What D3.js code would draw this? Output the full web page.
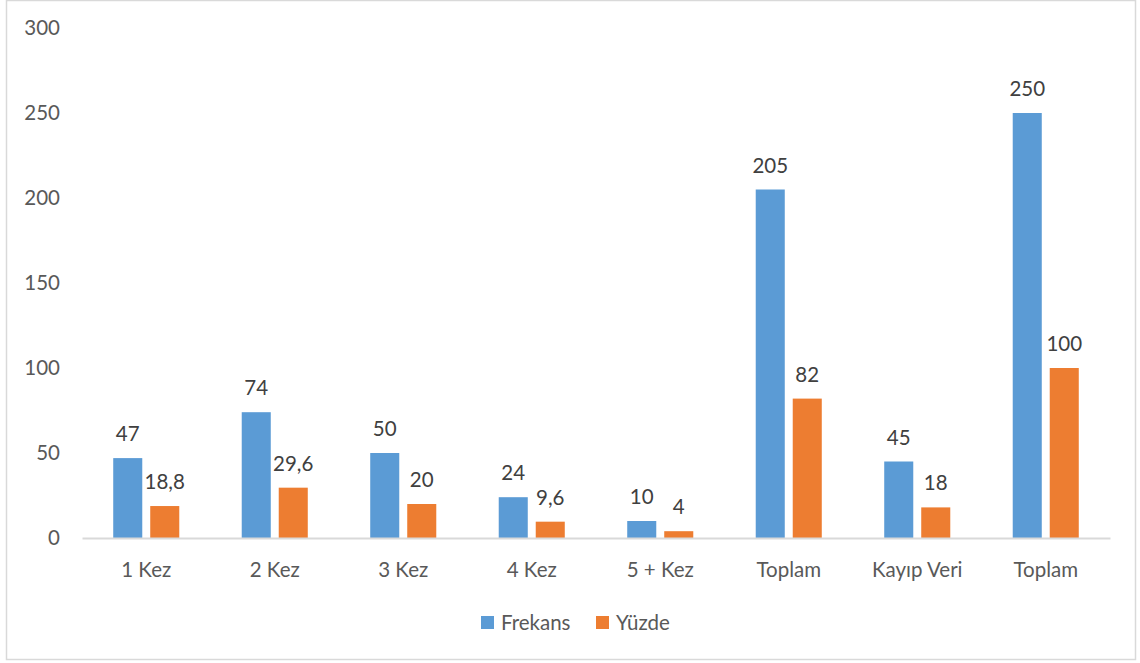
<!DOCTYPE html>
<html>
<head>
<meta charset="utf-8">
<script src="https://cdn.jsdelivr.net/npm/d3@7"></script>
<style>
  html, body { margin: 0; padding: 0; background: #fff; }
  svg { display: block; }
  text { font-family: Lato, "Open Sans", sans-serif; }
</style>
</head>
<body>
<svg id="chart" width="1140" height="663"></svg>
<script>
// Kategoriler ve seriler
const categories = ["1 Kez", "2 Kez", "3 Kez", "4 Kez", "5 + Kez", "Toplam", "Kayıp Veri", "Toplam"];
const frekans = [47, 74, 50, 24, 10, 205, 45, 250];
const yuzde = [18.8, 29.6, 20, 9.6, 4, 82, 18, 100];
const seriesNames = ["Frekans", "Yüzde"];
const yTicks = [0, 50, 100, 150, 200, 250, 300];

const colors = ["#5B9BD5", "#ED7D31"];
const fontSize = "20.5px";
const svg = d3.select("#chart");

// Dış çerçeve
svg.append("rect")
  .attr("x", 6.5).attr("y", 0.5)
  .attr("width", 1129).attr("height", 659)
  .attr("fill", "#fff").attr("stroke", "#D9D9D9").attr("stroke-width", 1.5);

const plot = { left: 82, right: 1110, top: 28, bottom: 538 };

const x = d3.scaleBand()
  .domain(d3.range(categories.length))
  .range([plot.left, plot.right]);

const y = d3.scaleLinear().domain([0, 300]).range([plot.bottom, plot.top]);

const bw = x.bandwidth();
const barW = bw * 0.226;
const gap = bw * 0.062;

const x1 = d3.scaleOrdinal()
  .domain([0, 1])
  .range([bw / 2 - gap / 2 - barW, bw / 2 + gap / 2]);

// Y ekseni etiketleri
const yAxis = d3.axisLeft(y).tickValues(yTicks).tickSize(0).tickPadding(0);
const yg = svg.append("g").attr("transform", `translate(60,0)`).call(yAxis);
yg.select(".domain").remove();
yg.selectAll("text")
  .attr("fill", "#595959")
  .style("font-size", fontSize)
  .style("font-family", "Lato, 'Open Sans', sans-serif");

// Çubuklar
const data = categories.map((c, i) => ({ i, vals: [frekans[i], yuzde[i]] }));
const groups = svg.append("g").selectAll("g")
  .data(data).join("g")
  .attr("transform", d => `translate(${x(d.i)},0)`);

groups.selectAll("rect")
  .data(d => d.vals.map((v, s) => ({ v, s })))
  .join("rect")
  .attr("x", d => x1(d.s))
  .attr("width", barW)
  .attr("y", d => y(d.v))
  .attr("height", d => y(0) - y(d.v))
  .attr("fill", d => colors[d.s]);

// Değer etiketleri
groups.selectAll("text.val")
  .data(d => d.vals.map((v, s) => ({ v, s })))
  .join("text")
  .attr("class", "val")
  .attr("x", d => x1(d.s) + barW / 2)
  .attr("y", d => y(d.v) - 17)
  .attr("text-anchor", "middle")
  .attr("fill", "#404040")
  .style("font-size", fontSize)
  .text(d => String(d.v).replace(".", ","));

// X ekseni çizgisi ve kategori etiketleri
const xAxis = d3.axisBottom(x).tickSize(0).tickPadding(0).tickFormat(i => categories[i]);
const xg = svg.append("g").attr("transform", `translate(0,${plot.bottom})`).call(xAxis);
xg.select(".domain").attr("stroke", "#D9D9D9").attr("stroke-width", 2);
xg.selectAll("text")
  .attr("y", 39)
  .attr("dy", 0)
  .attr("fill", "#595959")
  .style("font-size", fontSize)
  .style("font-family", "Lato, 'Open Sans', sans-serif");

// Lejant
const legend = svg.append("g").attr("transform", "translate(481,616)");
const legendX = [0, 115];
seriesNames.forEach((name, s) => {
  const g = legend.append("g").attr("transform", `translate(${legendX[s]},0)`);
  g.append("rect").attr("width", 13).attr("height", 13).attr("fill", colors[s]);
  g.append("text").attr("x", 20).attr("y", 13.5)
    .attr("fill", "#595959").style("font-size", fontSize).text(name);
});
</script>
</body>
</html>
